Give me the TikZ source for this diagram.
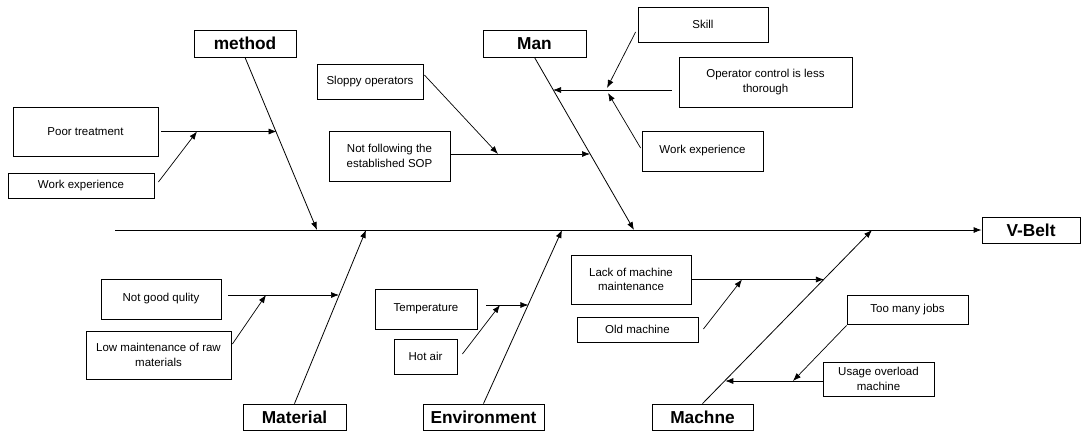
\documentclass[tikz,border=0pt]{standalone}
\usepackage{fontspec}
\setmainfont{Liberation Sans}
\usetikzlibrary{arrows.meta,calc}
\begin{document}
\begin{tikzpicture}[x=1pt,y=-1pt,
  box/.style={draw, line width=0.8pt, inner sep=0pt, align=center,
    font=\fontsize{11.5}{14.5}\selectfont},
  head/.style={draw, line width=0.8pt, inner sep=0pt,
    font=\fontsize{17.3}{20}\selectfont\bfseries},
  bone/.style={line width=0.8pt, -{Latex[length=8pt,width=6pt]}},
  twig/.style={line width=0.7pt, -{Latex[length=8pt,width=6pt]}}]
\useasboundingbox (0,0) rectangle (1081,432);

% category heads and effect
\node[head, minimum width=102, minimum height=27] (method) at (245,43.5) {method};
\node[head, minimum width=103, minimum height=27] (man) at (534.5,43.5) {Man};
\node[head, minimum width=103, minimum height=26] (material) at (294.5,417) {Material};
\node[head, minimum width=121, minimum height=26] (env) at (483.5,417) {Environment};
\node[head, minimum width=101, minimum height=26] (mach) at (702.5,417) {Machne};
\node[head, minimum width=98, minimum height=26] (vbelt) at (1031,230) {V-Belt};

% causes
\node[box, minimum width=145, minimum height=49] (poor) at (85.5,131.5) {Poor treatment};
\node[box, minimum width=146, minimum height=25] (wexpL) at (81,185.5) {Work experience};
\node[box, minimum width=106, minimum height=35] (sloppy) at (370,81.5) {Sloppy operators};
\node[box, minimum width=121, minimum height=50] (sop) at (389.5,156) {Not following the\\established SOP};
\node[box, minimum width=130, minimum height=35] (skill) at (703,24.5) {Skill};
\node[box, minimum width=173, minimum height=50] (opctl) at (765.5,82) {Operator control is less\\thorough};
\node[box, minimum width=121, minimum height=40] (wexpR) at (702.5,151) {Work experience};
\node[box, minimum width=120, minimum height=40] (quality) at (161,299) {Not good qulity};
\node[box, minimum width=145, minimum height=48] (lowmt) at (158.5,355) {Low maintenance of raw\\materials};
\node[box, minimum width=102, minimum height=40] (temp) at (426,309) {Temperature};
\node[box, minimum width=63, minimum height=35] (hotair) at (425.5,356.5) {Hot air};
\node[box, minimum width=120, minimum height=49] (lack) at (631,279.5) {Lack of machine\\maintenance};
\node[box, minimum width=121, minimum height=25] (oldm) at (637.5,329.5) {Old machine};
\node[box, minimum width=121, minimum height=29] (toomany) at (907.5,309.5) {Too many jobs};
\node[box, minimum width=111, minimum height=34] (usage) at (878.5,379) {Usage overload\\machine};

% spine and bone ends
\coordinate (tail) at (115,230);
\coordinate (mtip) at (317,230);
\coordinate (Mtip) at (634,230);
\coordinate (matip) at (366,230);
\coordinate (etip) at (562,230);
\coordinate (mctip) at (872,230);

% junctions on the bones
\coordinate (m1) at (276.6,131.5);
\coordinate (m2) at (197,131.5);
\coordinate (s1) at (498,154);
\coordinate (s2) at (590,154);
\coordinate (o1) at (553,90);
\coordinate (o2) at (607,88);
\coordinate (o3) at (608,93);
\coordinate (q1) at (339,295);
\coordinate (q2) at (266,295);
\coordinate (t1) at (528.4,305);
\coordinate (t2) at (500,305);
\coordinate (l1) at (823.9,279.5);
\coordinate (l2) at (742,279.5);
\coordinate (u1) at (725.3,381);
\coordinate (u2) at (793,381);

\draw[bone] (tail) -- (vbelt.west);
\draw[bone] (method.south) -- (mtip);
\draw[bone] (man.south) -- (Mtip);
\draw[bone] (material.north) -- (matip);
\draw[bone] (env.north) -- (etip);
\draw[bone] (mach.north) -- (mctip);

% method
\draw[twig, shorten <=3pt] (poor.east) -- (m1);
\draw[twig] ($(wexpL.east)+(4,-3.5)$) -- (m2);
% man
\draw[twig] ([yshift=2pt]sop.east) -- (s2);
\draw[twig] ($(sloppy.east)+(1,-6.5)$) -- (s1);
\draw[twig, shorten <=7pt] ([yshift=-8pt]opctl.west) -- (o1);
\draw[twig] ($(skill.west)+(-2,7.5)$) -- (o2);
\draw[twig] ($(wexpR.west)+(-1,-3)$) -- (o3);
% material
\draw[twig, shorten <=7pt] ([yshift=4pt]quality.east) -- (q1);
\draw[twig] ($(lowmt.east)+(1,-11)$) -- (q2);
% environment
\draw[twig, shorten <=9pt] ([yshift=4pt]temp.east) -- (t1);
\draw[twig] ($(hotair.east)+(5,-2.5)$) -- (t2);
% machine
\draw[twig] (lack.east) -- (l1);
\draw[twig] ($(oldm.east)+(5,-0.5)$) -- (l2);
\draw[twig] ([yshift=-2pt]usage.west) -- (u1);
\draw[twig] ($(toomany.south west)+(0,1)$) -- (u2);
\end{tikzpicture}
\end{document}
